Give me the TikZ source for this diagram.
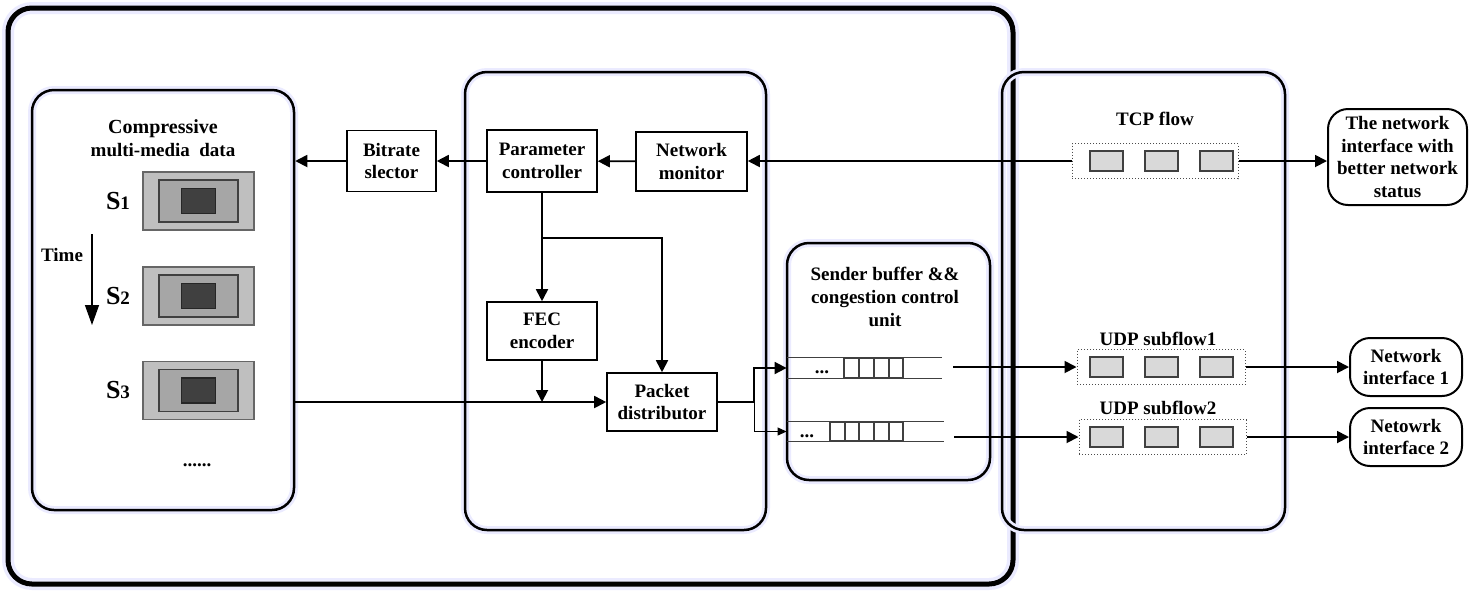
\documentclass[tikz,border=0pt]{standalone}
\usepackage{fontspec}
\setmainfont{Liberation Serif}
\usetikzlibrary{arrows.meta,positioning}
\tikzstyle{W} = [rectangle,
			draw, line width=2.5pt,
			rounded corners=12pt,
			preaction={draw=blue!8, line width=6pt}]
\tikzstyle{G} = [rectangle,
			draw, line width=1.25pt,
			rounded corners=11pt,
			preaction={draw=blue!8, line width=4pt}]
\tikzstyle{F} = [rectangle,
			draw, line width=0.8pt,
			align=center, inner sep=0pt]
\tikzstyle{E} = [rectangle,
			draw, line width=1pt,
			rounded corners=10pt,
			align=center, inner sep=0pt]
\tikzstyle{D} = [rectangle,
			draw=black!70, densely dotted, line width=0.5pt,
			minimum height=17.5pt]
\tikzstyle{P} = [rectangle,
			draw=black!75, fill=black!15, line width=0.6pt,
			minimum width=16.5pt, minimum height=10pt]
\tikzstyle{K} = [draw=black!75, line width=0.7pt]
\tikzstyle{L} = [draw, line width=0.9pt, -{Triangle[length=6pt,width=6pt]}]

\begin{document}
\begin{tikzpicture}[x=0.5pt, y=-0.5pt,
			font=\bfseries\fontsize{9.5}{11.3}\selectfont]
\useasboundingbox (0,0) rectangle (1472,602);

\node [W, minimum width=502.5pt, minimum height=288pt]
(all) at (510.5,296)
	{};

\node [G, minimum width=131pt, minimum height=210pt]
(media) at (163,300)
	{};

\node [G, minimum width=150.5pt, minimum height=229pt]
(ctrl) at (615.5,301)
	{};

\node [G, minimum width=101.5pt, minimum height=118.5pt]
(buf) at (888.5,361.5)
	{};

\node [G, preaction={draw=none}, minimum width=141.5pt, minimum height=229pt]
(flows) at (1143.5,301)
	{};

\node [align=center]
(mediatitle) at (163,138)
	{\fontsize{10}{12}\selectfont Compressive\\multi-media\ \ data};

\foreach \i/\y in {1/201,2/296,3/390.5} {
	\node [rectangle, draw=black!60, fill=black!25, line width=0.6pt,
			minimum width=55.5pt, minimum height=29pt]
	(s\i) at (198.5,\y) {};
	\node [rectangle, draw=black!75, fill=black!35, line width=0.6pt,
			minimum width=39.5pt, minimum height=21pt]
	(s\i in) at (s\i) {};
	\node [rectangle, draw=black!85, fill=black!75, line width=0.6pt,
			minimum width=17pt, minimum height=12.5pt]
	(s\i core) at (s\i) {};
	\node
	(slab\i) at (118,\y)
		{{\fontsize{13}{13}\selectfont S}\i};
}

\node
(time) at (62,255)
	{Time};

\coordinate (t0) at (92,234);
\coordinate (t1) at (92,325);

\node [anchor=base]
(more) at (197,466)
	{......};

\node [F, minimum width=44.5pt, minimum height=30.5pt]
(bitrate) at (391.5,161)
	{Bitrate\\slector};

\node [F, minimum width=55pt, minimum height=31pt]
(param) at (542,161)
	{Parameter\\controller};

\node [F, minimum width=55.5pt, minimum height=29.5pt]
(netmon) at (691.5,161.5)
	{Network\\monitor};

\node [F, minimum width=55pt, minimum height=29pt]
(fec) at (542,331)
	{FEC\\encoder};

\node [F, minimum width=55pt, minimum height=29pt]
(pkt) at (662,402)
	{Packet\\distributor};

\coordinate (br) at (542,238);

\node [align=center]
(buflabel) at (885,297)
	{Sender buffer \&\&\\congestion control\\unit};

\node [inner sep=0pt, minimum width=77.5pt, minimum height=10pt]
(q1) at (864.5,368)
	{};
\node [inner sep=0pt, minimum width=78.5pt, minimum height=9.5pt]
(q2) at (865.5,431.5)
	{};

\draw [K] (q1.north west) -- (q1.north east) (q1.south west) -- (q1.south east);
\draw [K] (844,358) rectangle (903,378);
\foreach \x in {859,874,889} \draw [K] (\x,358) -- (\x,378);

\draw [K] (q2.north west) -- (q2.north east) (q2.south west) -- (q2.south east);
\draw [K] (830,422) rectangle (903,441);
\foreach \x in {845,859,874,889} \draw [K] (\x,422) -- (\x,441);

\node
(q1dots) at (822,372)
	{...};
\node
(q2dots) at (807,436)
	{...};

\coordinate (fork) at (754,402);
\coordinate (q1out) at (953,367);
\coordinate (q2out) at (954,437);

\node
(tcplabel) at (1155,119)
	{TCP flow};

\node [D, minimum width=83pt]
(tcpf) at (1155,161)
	{};

\node
(udpalabel) at (1158,339)
	{UDP subflow1};

\node [D, minimum width=84pt]
(udpa) at (1161,367)
	{};

\node
(udpblabel) at (1158,408)
	{UDP subflow2};

\node [D, minimum width=83.5pt]
(udpb) at (1162.5,437)
	{};

\foreach \y/\f in {161/tcpf,367/udpa,437/udpb}
	\foreach \x/\j in {1106.5/1,1161.5/2,1216.5/3}
		\node [P] (\f\j) at (\x,\y) {};

\node [E, minimum width=69.5pt, minimum height=48pt]
(netbest) at (1397.5,157)
	{The network\\interface with\\better network\\status};

\node [E, minimum width=56pt, minimum height=29pt]
(ni1) at (1406,367)
	{Network\\interface 1};

\node [E, minimum width=56pt, minimum height=29pt]
(ni2) at (1406,437)
	{Netowrk\\interface 2};

\path[draw, line width=0.7pt, -{Triangle[length=10pt,width=7pt]}] (t0) -- (t1);

\path[L] (tcpf.west) -- (netmon.east |- tcpf.west);

\path[L] (netmon) -- (param);

\path[L] (param) -- (bitrate);

\path[L] (bitrate.west) -- (bitrate.west -| media.east);

\path[L] (param) -- (fec);

\path[L] (br) -| (pkt.north);

\path[L] (fec.south) -- (fec.south |- pkt.west);

\path[L] (media.east |- pkt.west) -- (pkt.west);

\path[L] (pkt.east) -- (fork) |- (q1.west);

\path[draw, line width=0.5pt, -{Triangle[length=4.5pt,width=4pt]}] (fork) |- (q2.west);

\path[L] (q1out) -- (udpa.west);

\path[L] (q2out) -- (udpb.west);

\path[L] (tcpf.east) -- (tcpf.east -| netbest.west);

\path[L] (udpa.east) -- (ni1.west);

\path[L] (udpb.east) -- (ni2.west);

\end{tikzpicture}
\end{document}
